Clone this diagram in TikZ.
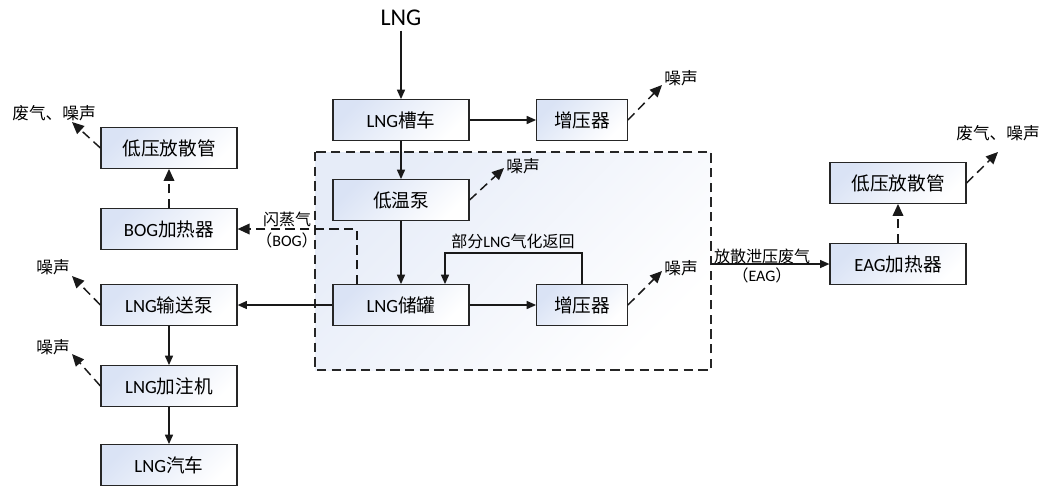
\documentclass[tikz,border=0pt]{standalone}
\usepackage{fontspec}
\setmainfont{Noto Sans CJK SC}
\newfontfamily\lat{Carlito}
\usetikzlibrary{positioning, arrows.meta, calc}
\definecolor{boxblue}{RGB}{218,227,245}
\definecolor{zonebg}{RGB}{230,236,248}

\begin{document}
\begin{tikzpicture}[
  x=0.75pt, y=-0.75pt,
  font=\fontsize{14}{16}\selectfont,
  >={Triangle[length=7pt,width=6pt]},
  unit/.style={rectangle, draw=black!85, line width=0.9pt,
               left color=boxblue, right color=white, shading angle=45,
               minimum width=102pt, minimum height=30.5pt, inner sep=2pt},
  small/.style={unit, minimum width=68pt},
  zone/.style={draw=black!85, line width=0.8pt, dash pattern=on 7pt off 4pt,
               left color=zonebg, right color=white, shading angle=45},
  lbl/.style={inner sep=1pt, font=\fontsize{12.5}{14}\selectfont},
  flw/.style={inner sep=1pt, align=center, font=\fontsize{12}{16}\selectfont},
  arr/.style={->, line width=1pt, draw=black!90},
  darr/.style={-{Triangle[length=9pt,width=8pt]}, line width=1.1pt,
               draw=black!90, dash pattern=on 7pt off 4pt}
]
\useasboundingbox (0,0) rectangle (1044,486);
% station area
\draw[zone] (315,152) rectangle (711,370);
\coordinate (zoneR) at (711,264);

\node (src) at (401,18) {\lat\fontsize{18}{20}\selectfont LNG};
\node[unit] (truck)  at (401,120) {{\lat LNG}槽车};
\node[small] (boostA) at (582,120) {增压器};
\node[unit] (cryo)   at (401,200) {低温泵};
\node[unit] (tank)   at (401,305) {{\lat LNG}储罐};
\node[small] (boostB) at (582,305) {增压器};
\node[unit] (ventL)  at (169,148) {低压放散管};
\node[unit] (bogh)   at (169,229) {{\lat BOG}加热器};
\node[unit] (pump)   at (169,305) {{\lat LNG}输送泵};
\node[unit] (disp)   at (169,386) {{\lat LNG}加注机};
\node[unit] (car)    at (169,465) {{\lat LNG}汽车};
\node[unit] (ventR)  at (898,183) {低压放散管};
\node[unit] (eagh)   at (898,264) {{\lat EAG}加热器};

% noise / exhaust outlets
\node[lbl] (nzA)    at (681,78)  {噪声};
\node[lbl] (nzC)    at (523,166) {噪声};
\node[lbl] (nzB)    at (681,268) {噪声};
\node[lbl] (wasteL) at (54,113)  {废气、噪声};
\node[lbl] (nzP)    at (53,267)  {噪声};
\node[lbl] (nzD)    at (53,347)  {噪声};
\node[lbl] (wasteR) at (998,133) {废气、噪声};
\coordinate (tA) at (662,85);
\coordinate (tC) at (504,168);
\coordinate (tB) at (662,271);
\coordinate (tL) at (72,122);
\coordinate (tP) at (72,276);
\coordinate (tD) at (72,354);
\coordinate (tR) at (998,152);
\draw[darr] (boostA.east) -- (tA);
\draw[darr] (cryo.east) -- (tC);
\draw[darr] (boostB.east) -- (tB);
\draw[darr] (ventL.west) -- (tL);
\draw[darr] (pump.west) -- (tP);
\draw[darr] (disp.west) -- (tD);
\draw[darr] (ventR.east) -- (tR);

% main flow
\draw[arr] (src) -- (truck);
\draw[arr] (truck) -- (boostA);
\draw[arr] (truck) -- (cryo);
\draw[arr] (cryo) -- (tank);
\draw[arr] (tank) -- (boostB);
\draw[arr] (tank) -- (pump);
\draw[arr] (pump) -- (disp);
\draw[arr] (disp) -- (car);
\draw[arr] (boostB.north) -- ++(0,-31) -| ($(tank.north)+(44,0)$);
\node[flw] (retlbl) at (513,241) {部分{\lat LNG}气化返回};

% boil-off gas
\draw[darr] ($(tank.north)+(-44,0)$) |- (bogh.east);
\node[flw] (boglbl) at (287,230) {闪蒸气\\（{\lat BOG}）};
\draw[darr] (bogh) -- (ventL);

% vent gas
\draw[arr] (zoneR) -- (eagh.west);
\node[flw, font=\fontsize{12}{14}\selectfont] (eaglbl) at (762,266) {放散泄压废气\\（{\lat EAG}）};
\draw[darr] (eagh) -- (ventR);
\end{tikzpicture}
\end{document}
